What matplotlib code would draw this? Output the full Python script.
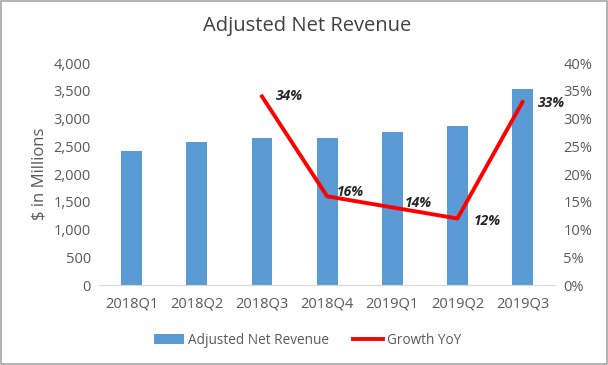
import matplotlib.pyplot as plt
from matplotlib.ticker import FuncFormatter

quarters = ["2018Q1", "2018Q2", "2018Q3", "2018Q4", "2019Q1", "2019Q2", "2019Q3"]
revenue = [2420, 2580, 2650, 2650, 2760, 2860, 3530]
growth_quarters = ["2018Q3", "2018Q4", "2019Q1", "2019Q2", "2019Q3"]
growth = [0.34, 0.16, 0.14, 0.12, 0.33]
growth_labels = ["34%", "16%", "14%", "12%", "33%"]

plt.rcParams['font.family'] = ['Open Sans', 'DejaVu Sans']
gray = '#595959'

fig = plt.figure(figsize=(6.08, 3.65), dpi=100)
ax = fig.add_axes([0.163, 0.219, 0.75, 0.608])

x = list(range(len(quarters)))
ax.bar(x, revenue, width=0.32, color='#5B9BD5', label='Adjusted Net Revenue', zorder=2)
ax.set_ylim(0, 4000)
ax.set_xlim(-0.5, len(quarters) - 0.5)
ax.set_yticks(range(0, 4001, 500))
ax.yaxis.set_major_formatter(FuncFormatter(lambda v, p: f"{int(v):,}"))
ax.set_xticks(x)
ax.set_xticklabels(quarters)
ax.set_ylabel("$ in Millions", color=gray, fontsize=12, labelpad=4)

ax2 = ax.twinx()
gx = [quarters.index(q) for q in growth_quarters]
ax2.plot(gx, growth, color='#FF0000', linewidth=2.8, label='Growth YoY', zorder=3)
ax2.set_ylim(0, 0.4)
ax2.set_yticks([i * 0.05 for i in range(9)])
ax2.yaxis.set_major_formatter(FuncFormatter(lambda v, p: f"{round(v * 100)}%"))

# label offsets in points
offsets = [(10, 0), (7, 3), (9, 3), (12, -2), (11, -1)]
for xi, yi, lab, off in zip(gx, growth, growth_labels, offsets):
    ax2.annotate(lab, (xi, yi), xytext=off, textcoords='offset points',
                 fontsize=10, fontweight='bold', fontstyle='italic', color='#262626',
                 va='center', ha='left')

for a in (ax, ax2):
    for s in ['top', 'right', 'left']:
        a.spines[s].set_visible(False)
    a.tick_params(length=0, colors=gray, labelsize=10.5)
ax2.spines['bottom'].set_visible(False)
ax.spines['bottom'].set_color('#D9D9D9')
ax.tick_params(axis='x', pad=8)
ax.tick_params(axis='y', pad=6)
ax2.tick_params(axis='y', pad=6)

fig.suptitle("Adjusted Net Revenue", x=0.505, y=0.955, fontsize=14.5, color='#404040')

h1, l1 = ax.get_legend_handles_labels()
h2, l2 = ax2.get_legend_handles_labels()
fig.legend(h1 + h2, l1 + l2, loc='center', bbox_to_anchor=(0.506, 0.068), ncol=2,
           frameon=False, fontsize=9.8, labelcolor=gray, handlelength=2.2,
           handletextpad=0.3, columnspacing=1.8)

fig.patches.append(plt.Rectangle((0.002, 0.003), 0.996, 0.994, transform=fig.transFigure,
                                 fill=False, edgecolor='#A6A6A6', linewidth=1.2))

fig.savefig('out.png', dpi=100)
